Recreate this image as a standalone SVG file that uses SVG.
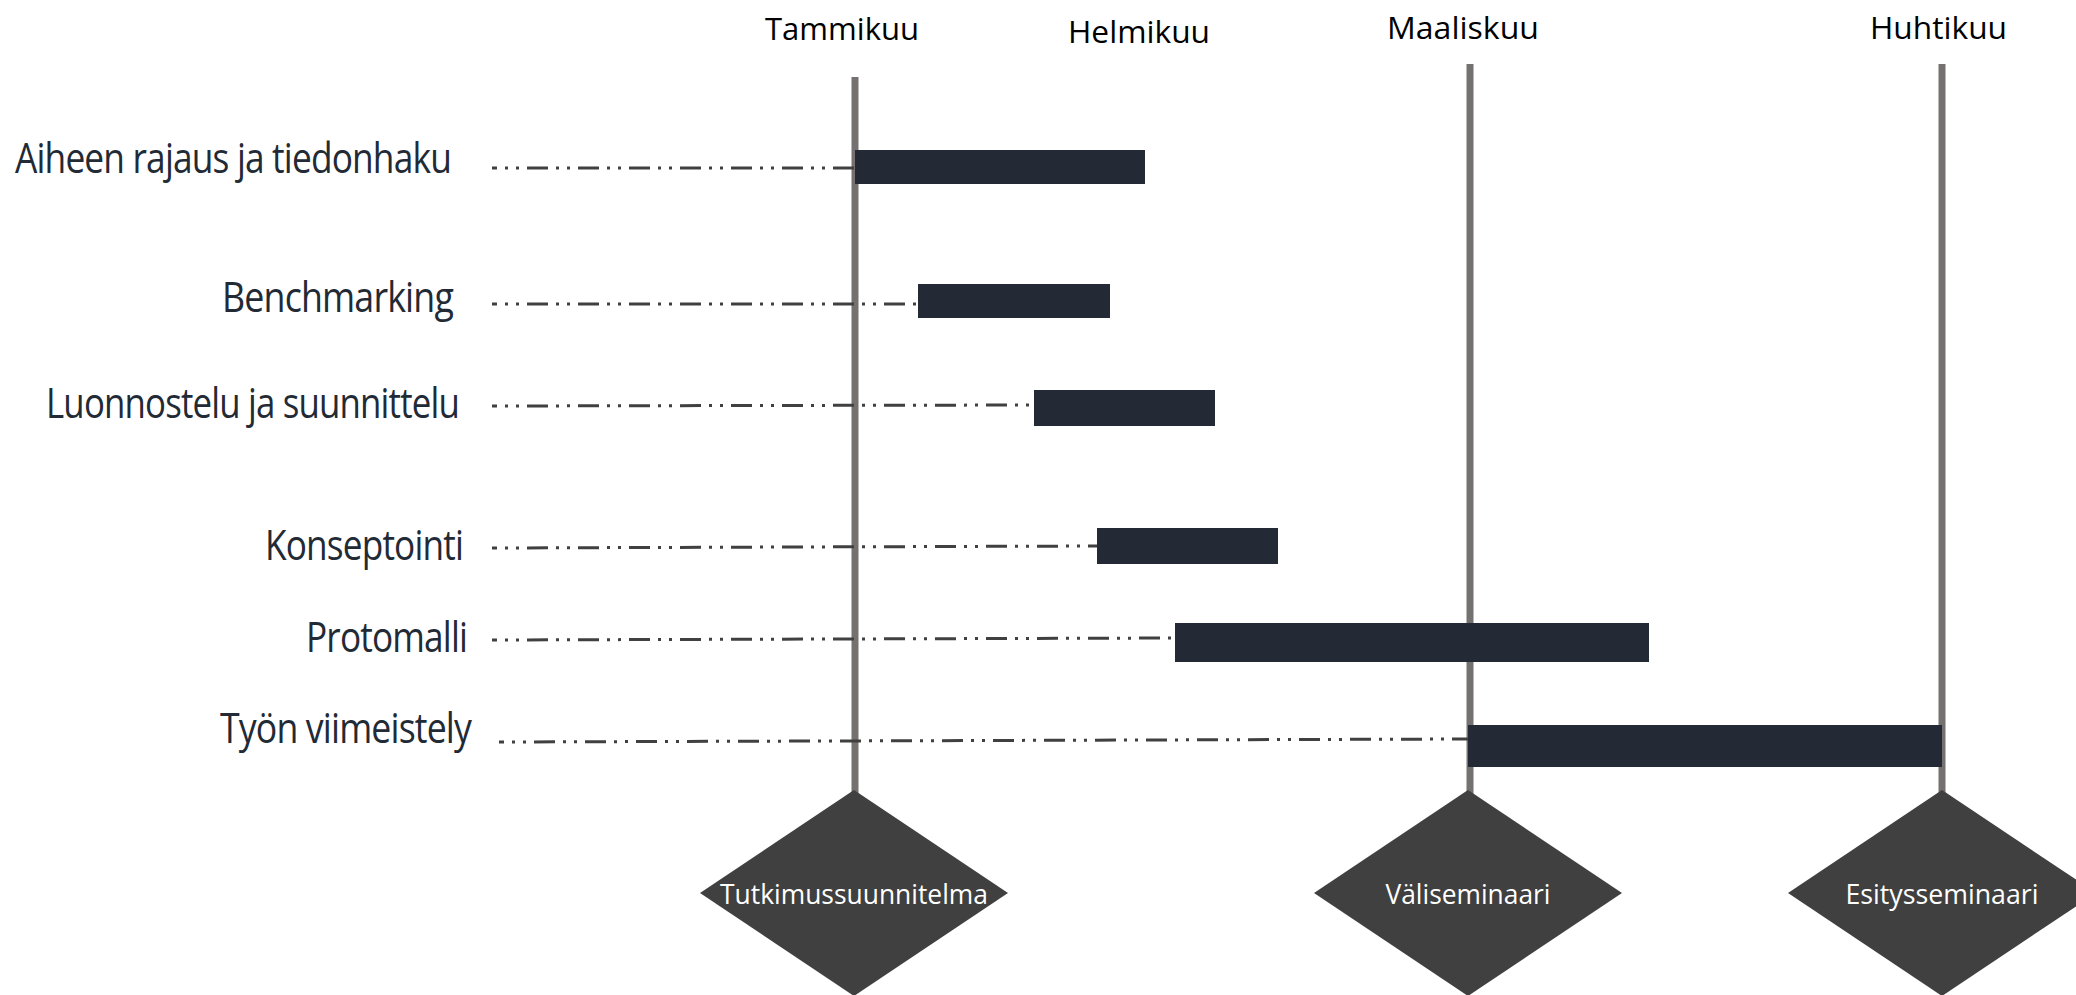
<svg xmlns="http://www.w3.org/2000/svg" width="2076" height="995" viewBox="0 0 2076 995">
<style>
.month{font-family:"Open Sans","Liberation Sans",sans-serif;font-size:31px;fill:#000}
.task{font-family:"Open Sans","Liberation Sans",sans-serif;font-size:42px;fill:#222A35;letter-spacing:-1px}
.ms{font-family:"Open Sans","Liberation Sans",sans-serif;font-size:28px;fill:#fff;text-anchor:middle}
.vline{stroke:#767171;stroke-width:7;fill:none}
.dash{stroke:#404040;stroke-width:3;fill:none;stroke-dasharray:21 8 3 8 3 8;stroke-dashoffset:16}
.bar{fill:#232A35}
.dia{fill:#404040}
</style>
<rect width="2076" height="995" fill="#fff"/>
<g id="months">
<text class="month" x="765" y="40" textLength="154" lengthAdjust="spacingAndGlyphs">Tammikuu</text>
<text class="month" x="1068" y="43" textLength="142" lengthAdjust="spacingAndGlyphs">Helmikuu</text>
<text class="month" x="1387" y="39" textLength="152" lengthAdjust="spacingAndGlyphs">Maaliskuu</text>
<text class="month" x="1870" y="39" textLength="137" lengthAdjust="spacingAndGlyphs">Huhtikuu</text>
</g>
<g id="timelines">
<line class="vline" x1="855" y1="77" x2="855" y2="795"/>
<line class="vline" x1="1470" y1="64" x2="1470" y2="795"/>
<line class="vline" x1="1942" y1="64" x2="1942" y2="795"/>
</g>
<g id="connectors">
<line class="dash" x1="492" y1="168" x2="855" y2="168"/>
<line class="dash" x1="492" y1="304" x2="918" y2="304"/>
<line class="dash" x1="492" y1="406" x2="1033" y2="405"/>
<line class="dash" x1="492" y1="548" x2="1097" y2="546"/>
<line class="dash" x1="492" y1="640" x2="1175" y2="638"/>
<line class="dash" x1="499" y1="742" x2="1468" y2="739"/>
</g>
<g id="task1"><text class="task" x="15" y="173" textLength="436" lengthAdjust="spacingAndGlyphs">Aiheen rajaus ja tiedonhaku</text><rect class="bar" x="855" y="150" width="290" height="34"/></g>
<g id="task2"><text class="task" x="222" y="312" textLength="231" lengthAdjust="spacingAndGlyphs">Benchmarking</text><rect class="bar" x="918" y="284" width="192" height="34"/></g>
<g id="task3"><text class="task" x="46" y="418" textLength="413" lengthAdjust="spacingAndGlyphs">Luonnostelu ja suunnittelu</text><rect class="bar" x="1034" y="390" width="181" height="36"/></g>
<g id="task4"><text class="task" x="265" y="560" textLength="198" lengthAdjust="spacingAndGlyphs">Konseptointi</text><rect class="bar" x="1097" y="528" width="181" height="36"/></g>
<g id="task5"><text class="task" x="306" y="652" textLength="161" lengthAdjust="spacingAndGlyphs">Protomalli</text><rect class="bar" x="1175" y="623" width="474" height="39"/></g>
<g id="task6"><text class="task" x="220" y="743" textLength="251" lengthAdjust="spacingAndGlyphs">Työn viimeistely</text><rect class="bar" x="1468" y="725" width="474" height="42"/></g>
<g id="milestone1"><polygon class="dia" points="854,790 1008,893 854,996 700,893"/><text class="ms" x="854" y="904" textLength="268" lengthAdjust="spacingAndGlyphs">Tutkimussuunnitelma</text></g>
<g id="milestone2"><polygon class="dia" points="1468,790 1622,893 1468,996 1314,893"/><text class="ms" x="1468" y="904" textLength="165" lengthAdjust="spacingAndGlyphs">Väliseminaari</text></g>
<g id="milestone3"><polygon class="dia" points="1942,790 2096,893 1942,996 1788,893"/><text class="ms" x="1942" y="904" textLength="193" lengthAdjust="spacingAndGlyphs">Esitysseminaari</text></g>
</svg>
